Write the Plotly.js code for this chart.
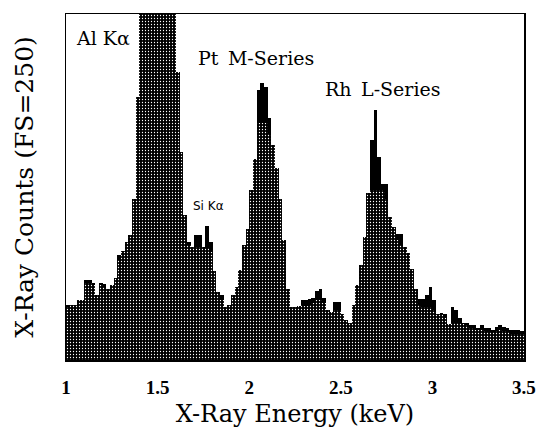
<!DOCTYPE html>
<html>
<head>
<meta charset="utf-8">
<script src="https://cdn.plot.ly/plotly-3.0.1.min.js"></script>
<style>
  html, body { margin: 0; padding: 0; background: #fff; }
  #chart { width: 537px; height: 428px; }
</style>
</head>
<body>
<div id="chart"></div>
<script>
// Energy grid: 0.02 keV channels from 1.00 to 3.50 keV
const binStart = 1.0;
const binWidth = 0.02;
const binCount = 125;

// Smoothed spectrum (halftone), counts per channel; Al Kα runs off scale
const smoothCounts = [
  38, 40, 40, 43, 43, 56, 56, 54, 47, 54,
  53, 51, 54, 59, 72, 79, 85, 90, 116, 190,
  275, 330, 400, 470, 520, 540, 510, 450, 380, 300,
  208, 150, 105, 83, 82, 82, 82, 82, 81, 78,
  64, 49, 43, 38, 40, 47, 53, 65, 83, 95,
  123, 145, 171, 171, 171, 163, 155, 139, 116, 87,
  51, 38, 38, 39, 40, 39, 40, 41, 43, 43,
  41, 36, 35, 36, 36, 33, 29, 27, 40, 54,
  69, 89, 121, 123, 123, 123, 123, 116, 103, 96,
  87, 83, 82, 77, 66, 51, 40, 38, 38, 38,
  36, 33, 33, 30, 26, 27, 27, 27, 26, 25,
  23, 22, 22, 22, 21, 20, 20, 21, 22, 21,
  20, 19, 19, 19, 19
];

// Raw channel counts (solid black)
const rawCounts = [
  40, 40, 40, 43, 43, 58, 58, 56, 47, 56,
  55, 51, 54, 59, 76, 79, 85, 90, 116, 190,
  275, 330, 400, 470, 520, 540, 510, 450, 380, 300,
  208, 150, 105, 85, 82, 90, 90, 82, 97, 85,
  64, 49, 47, 38, 40, 47, 53, 65, 83, 95,
  123, 145, 195, 200, 197, 175, 155, 139, 116, 87,
  51, 38, 38, 39, 43, 43, 44, 45, 50, 51,
  45, 36, 35, 42, 42, 33, 29, 27, 40, 54,
  69, 89, 121, 159, 181, 147, 127, 127, 103, 96,
  91, 91, 82, 77, 66, 51, 44, 44, 47, 53,
  43, 33, 34, 33, 26, 38, 36, 30, 27, 27,
  25, 25, 23, 25, 23, 23, 22, 24, 25, 24,
  23, 22, 22, 22, 21
];

const tickValues = [1, 1.5, 2, 2.5, 3, 3.5];
const tickLabels = ['1', '1.5', '2', '2.5', '3', '3.5'];

const peakLabels = [
  { text: 'Al Kα', energy: 1.20, counts: 233, size: 19, family: 'DejaVu Serif' },
  { text: 'Pt\u2002M-Series', energy: 2.035, counts: 218, size: 19, family: 'DejaVu Serif' },
  { text: 'Rh\u2002L-Series', energy: 2.73, counts: 196, size: 19, family: 'DejaVu Serif' },
  { text: 'Si Kα', energy: 1.78, counts: 111, size: 12, family: 'DejaVu Sans' }
];

const energies = [];
for (let i = 0; i < binCount; i++) {
  energies.push(+(binStart + binWidth * (i + 0.5)).toFixed(3));
}

const rawTrace = {
  type: 'bar',
  x: energies,
  y: rawCounts,
  width: binWidth,
  marker: { color: '#000', line: { width: 0 } },
  hoverinfo: 'x+y'
};

const smoothTrace = {
  type: 'bar',
  x: energies,
  y: smoothCounts,
  width: binWidth,
  marker: {
    color: '#000',
    line: { width: 0 },
    pattern: {
      shape: '.',
      fillmode: 'replace',
      bgcolor: '#000',
      fgcolor: '#fff',
      size: 3,
      solidity: 0.14
    }
  },
  hoverinfo: 'x+y'
};

const layout = {
  width: 537,
  height: 428,
  margin: { l: 66, r: 13, t: 14, b: 68 },
  paper_bgcolor: '#fff',
  plot_bgcolor: '#fff',
  showlegend: false,
  barmode: 'overlay',
  bargap: 0,
  xaxis: {
    range: [0.9999, 3.5001],
    tickvals: tickValues,
    ticktext: tickLabels,
    ticks: 'outside',
    ticklen: 10,
    tickcolor: 'rgba(0,0,0,0)',
    ticklabeloverflow: 'allow',
    tickfont: { family: 'Liberation Serif', size: 19, weight: 'bold', color: '#000' },
    showgrid: false,
    zeroline: false,
    showline: true,
    linecolor: '#000',
    linewidth: 1.5,
    mirror: true,
    title: {
      text: 'X-Ray Energy (keV)',
      font: { family: 'DejaVu Serif', size: 24, color: '#000' },
      standoff: 8
    }
  },
  yaxis: {
    range: [0, 250],
    showticklabels: false,
    ticks: '',
    showgrid: false,
    zeroline: false,
    showline: true,
    linecolor: '#000',
    linewidth: 1.5,
    mirror: true,
    title: {
      text: 'X-Ray Counts (FS=250)',
      font: { family: 'DejaVu Serif', size: 25, color: '#000' },
      standoff: 24
    }
  },
  annotations: peakLabels.map(p => ({
    x: p.energy,
    y: p.counts,
    xref: 'x',
    yref: 'y',
    text: p.text,
    showarrow: false,
    font: { family: p.family, size: p.size, color: '#000' }
  }))
};

Plotly.newPlot('chart', [rawTrace, smoothTrace], layout, { staticPlot: true });
</script>
</body>
</html>
